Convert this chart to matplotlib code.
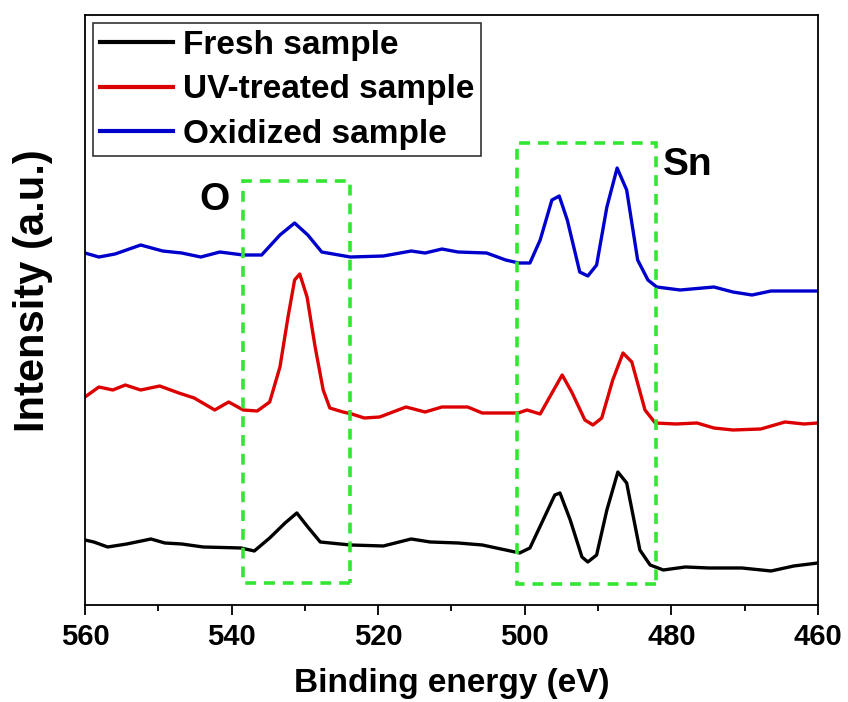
import matplotlib
matplotlib.use('Agg')
import matplotlib.pyplot as plt
from matplotlib.patches import Rectangle
from matplotlib.ticker import MultipleLocator

plt.rcParams['font.family'] = ['Liberation Sans', 'DejaVu Sans']
plt.rcParams['font.weight'] = 'bold'

# binding energy (eV) and offset intensity (a.u.) for each sample
fresh_energy = [560, 558.8, 556.9, 554.3, 551.0, 549.1, 546.8, 543.9, 538.7, 536.9,
                534.8, 532.7, 531.1, 529.6, 527.9, 523.8, 519.3, 515.5, 512.9, 509.1,
                505.8, 502.6, 500.7, 499.3, 497.5, 495.9, 495.2, 493.8, 492.2, 491.4,
                490.2, 488.8, 487.3, 486.1, 484.3, 482.9, 481.1, 478.1, 474.9, 470.4,
                466.4, 463.3, 460]
fresh_intensity = [65, 63, 58, 61, 66, 62, 61, 58, 57, 54,
                   67, 82, 92, 78, 63, 60, 59, 66, 63, 62,
                   60, 55, 52, 57, 85, 110, 112, 85, 48, 43,
                   50, 95, 133, 122, 55, 40, 35, 38, 37, 37,
                   34, 39, 42]

uv_energy = [560, 558.1, 556.2, 554.5, 552.4, 549.8, 547.2, 545.1, 542.3, 540.4,
             538.4, 536.5, 534.8, 533.4, 532.3, 531.4, 530.7, 529.7, 528.6, 527.5,
             526.6, 524.8, 523.6, 521.9, 519.8, 516.2, 513.6, 511.3, 507.8, 505.8,
             500.9, 499.7, 497.9, 496.6, 494.9, 493.6, 491.8, 490.7, 489.5, 488.0,
             486.6, 485.4, 483.6, 482.2, 479.4, 476.5, 474.2, 471.6, 467.8, 464.5,
             461.9, 460]
uv_intensity = [208, 218, 215, 220, 215, 219, 212, 207, 195, 203,
                195, 194, 203, 238, 288, 325, 331, 308, 258, 215,
                197, 193, 191, 187, 188, 198, 193, 198, 198, 192,
                192, 195, 191, 208, 230, 213, 185, 180, 187, 225,
                252, 243, 195, 182, 181, 182, 177, 175, 176, 183,
                181, 182]

oxidized_energy = [560, 558.1, 555.9, 552.4, 549.4, 546.8, 544.2, 541.6, 538.4, 535.9,
                   533.4, 531.4, 529.6, 527.7, 523.8, 519.3, 515.5, 513.6, 511.3, 509.1,
                   505.2, 502.6, 500.8, 499.3, 497.9, 496.3, 495.3, 494.2, 492.5, 491.4,
                   490.2, 488.8, 487.4, 486.1, 484.6, 483.2, 482.0, 478.8, 474.2, 471.6,
                   469.0, 466.4, 462.6, 460]
oxidized_intensity = [352, 348, 351, 360, 354, 352, 348, 353, 350, 350,
                      370, 382, 370, 353, 348, 349, 354, 352, 356, 353,
                      352, 345, 342, 342, 365, 405, 409, 385, 333, 329,
                      340, 398, 437, 415, 345, 325, 318, 315, 318, 313,
                      310, 314, 314, 314]

labels = ['Fresh sample', 'UV-treated sample', 'Oxidized sample']
colors = ['black', '#DD0000', '#0000CC']

# regions marked for the O 1s and Sn 3d peaks: (high E, low E, bottom, top)
o_region = (538.4, 523.8, 22, 424)
sn_region = (501.0, 482.1, 21, 462)

fig = plt.figure(figsize=(8.48, 7.02), dpi=100)
ax = fig.add_axes([0.1002, 0.1382, 0.8644, 0.8404])

for e, i, lab, c in zip([fresh_energy, uv_energy, oxidized_energy],
                        [fresh_intensity, uv_intensity, oxidized_intensity],
                        labels, colors):
    ax.plot(e, i, color=c, lw=2.4, label=lab, solid_joinstyle='round')

for hi, lo, b, t in [o_region, sn_region]:
    ax.add_patch(Rectangle((lo, b), hi - lo, t - b, fill=False, ec='#33E633',
                           lw=2.6, ls=(0, (3, 2.2)), zorder=3))

ax.text(542.3, 405, 'O', fontsize=28, fontweight='bold', ha='center', va='center')
ax.text(481.1, 440, 'Sn', fontsize=28, fontweight='bold', ha='left', va='center')

ax.set_xlim(560, 460)
ax.set_ylim(0, 590)
ax.xaxis.set_major_locator(MultipleLocator(20))
ax.xaxis.set_minor_locator(MultipleLocator(10))
ax.set_yticks([])
ax.tick_params(axis='x', which='major', direction='out', length=7, width=1.3,
               labelsize=21, pad=6)
ax.tick_params(axis='x', which='minor', direction='out', length=4.5, width=1.3)
for lbl in ax.get_xticklabels():
    lbl.set_fontweight('bold')
for sp in ax.spines.values():
    sp.set_linewidth(1.3)

ax.set_xlabel('Binding energy (eV)', fontsize=24, fontweight='bold', labelpad=12)
ax.set_ylabel('Intensity (a.u.)', fontsize=30, fontweight='bold')
ax.yaxis.set_label_coords(-0.044, 0.532)

leg = ax.legend(loc='upper left', fontsize=24, frameon=True, fancybox=False,
                edgecolor='black', handlelength=2.2, handletextpad=0.3,
                labelspacing=0.4, borderpad=0.2, borderaxespad=0.25)
leg.get_frame().set_linewidth(1.2)
for t in leg.get_texts():
    t.set_fontweight('bold')
for ln in leg.get_lines():
    ln.set_linewidth(3)

fig.savefig('out.png', dpi=100)
